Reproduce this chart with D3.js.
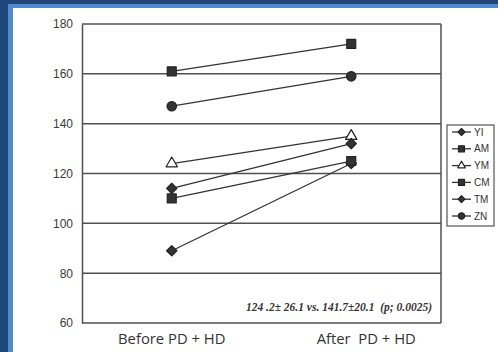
<!DOCTYPE html>
<html>
<head>
<meta charset="utf-8">
<script src="https://cdn.jsdelivr.net/npm/d3@7"></script>
<style>
  html, body { margin: 0; padding: 0; background: #fff; }
  svg { display: block; }
</style>
</head>
<body>
<div id="chart"></div>
<script>
// données
const periodes = ["Before PD + HD", "After  PD + HD"];
const patients = ["YI", "AM", "YM", "CM", "TM", "ZN"];
const symboles = ["diamond", "square", "triangle", "square", "diamond", "circle"];
const valeursAvant = [89, 161, 124, 110, 114, 147];
const valeursApres = [124, 172, 135, 125, 132, 159];
const ticksY = [60, 80, 100, 120, 140, 160, 180];
const note = "124 .2\u00B1 26.1 vs. 141.7\u00B120.1  (p; 0.0025)";

const W = 498, H = 352;
const margin = { top: 24, right: 57, bottom: 29, left: 82 };
const width = W - margin.left - margin.right,
      height = H - margin.top - margin.bottom;

const svg = d3.select("#chart").append("svg")
    .attr("width", W)
    .attr("height", H);

// cadre bleu (haut et gauche)
svg.append("rect").attr("x", 0).attr("y", 0).attr("width", W).attr("height", H).attr("fill", "#1f4878");
svg.append("rect").attr("x", 8).attr("y", 4).attr("width", W - 8).attr("height", H - 4).attr("fill", "#4f8ad3");
svg.append("rect").attr("x", 13).attr("y", 8).attr("width", W - 13).attr("height", H - 8).attr("fill", "#ffffff");

const g = svg.append("g")
    .attr("transform", "translate(" + margin.left + "," + margin.top + ")");

// échelles
const y = d3.scaleLinear().domain([60, 180]).range([height, 0]);
const x = d3.scalePoint().domain(periodes).range([0, width]).padding(0.5);

// grille horizontale
g.selectAll(".grille")
    .data(ticksY)
    .join("line")
    .attr("x1", 0).attr("x2", width)
    .attr("y1", d => y(d)).attr("y2", d => y(d))
    .attr("stroke", "#505050")
    .attr("stroke-width", 1.5);

// axe Y
const axeY = d3.axisLeft(y).tickValues(ticksY).tickSize(0).tickPadding(9);
g.append("g").call(axeY)
    .call(s => s.select(".domain").attr("stroke", "#505050").attr("stroke-width", 1.5))
    .selectAll("text")
    .attr("font-family", "'Liberation Sans', Arial, sans-serif")
    .attr("font-size", 12)
    .attr("fill", "#3a3a3a");

// bord droit du cadre
g.append("line")
    .attr("x1", width).attr("x2", width)
    .attr("y1", 0).attr("y2", height)
    .attr("stroke", "#505050").attr("stroke-width", 1.5);

// étiquettes X
const decalX = [0, 15];
g.selectAll(".etiquetteX")
    .data(periodes)
    .join("text")
    .attr("x", (d, i) => x(d) + decalX[i])
    .attr("y", height + 21)
    .attr("text-anchor", "middle")
    .attr("font-family", "'Open Sans', 'Liberation Sans', sans-serif")
    .attr("font-size", 14.8)
    .attr("fill", "#333")
    .style("white-space", "pre")
    .text(d => d);

// symboles
const formes = {
    diamond: d3.symbolDiamond2,
    square: d3.symbolSquare,
    triangle: d3.symbolTriangle,
    circle: d3.symbolCircle
};
const tailles = { diamond: 68, square: 80, triangle: 55, circle: 70 };
function dessinSymbole(sel, type, echelle) {
    sel.append("path")
        .attr("d", d3.symbol().type(formes[type]).size(tailles[type] * (echelle || 1)))
        .attr("fill", type === "triangle" ? "#fff" : "#333")
        .attr("stroke", "#222")
        .attr("stroke-width", 1.2)
        .attr("stroke-linejoin", "round");
}

const series = patients.map((p, i) => ({
    nom: p, forme: symboles[i], valeurs: [valeursAvant[i], valeursApres[i]]
}));

const ligne = d3.line()
    .x((d, i) => x(periodes[i]))
    .y(d => y(d));

g.selectAll(".serie")
    .data(series)
    .join("path")
    .attr("d", d => ligne(d.valeurs))
    .attr("fill", "none")
    .attr("stroke", "#333")
    .attr("stroke-width", 1.3);

series.forEach(s => {
    s.valeurs.forEach((v, i) => {
        const m = g.append("g").attr("transform", "translate(" + x(periodes[i]) + "," + y(v) + ")");
        dessinSymbole(m, s.forme);
    });
});

// note statistique
g.append("text")
    .attr("x", width - 9)
    .attr("y", y(64) - 2)
    .attr("text-anchor", "end")
    .attr("font-family", "'Liberation Serif', 'Times New Roman', serif")
    .attr("font-style", "italic")
    .attr("font-weight", "bold")
    .attr("font-size", 11.5)
    .attr("fill", "#333")
    .style("white-space", "pre")
    .text(note);

// légende
const legende = svg.append("g").attr("transform", "translate(447,125)");
legende.append("rect")
    .attr("width", 47).attr("height", 101)
    .attr("fill", "#fff")
    .attr("stroke", "#555").attr("stroke-width", 1.2);

series.forEach((s, i) => {
    const ligneLeg = legende.append("g").attr("transform", "translate(0," + (7 + i * 16.8) + ")");
    ligneLeg.append("line")
        .attr("x1", 5).attr("x2", 24)
        .attr("stroke", "#333").attr("stroke-width", 1.3);
    const m = ligneLeg.append("g").attr("transform", "translate(14.5,0)");
    dessinSymbole(m, s.forme, 0.45);
    ligneLeg.append("text")
        .attr("x", 27).attr("y", 0)
        .attr("dy", "0.35em")
        .attr("font-family", "'Liberation Sans', Arial, sans-serif")
        .attr("font-size", 10)
        .attr("fill", "#333")
        .text(s.nom);
});
</script>
</body>
</html>
